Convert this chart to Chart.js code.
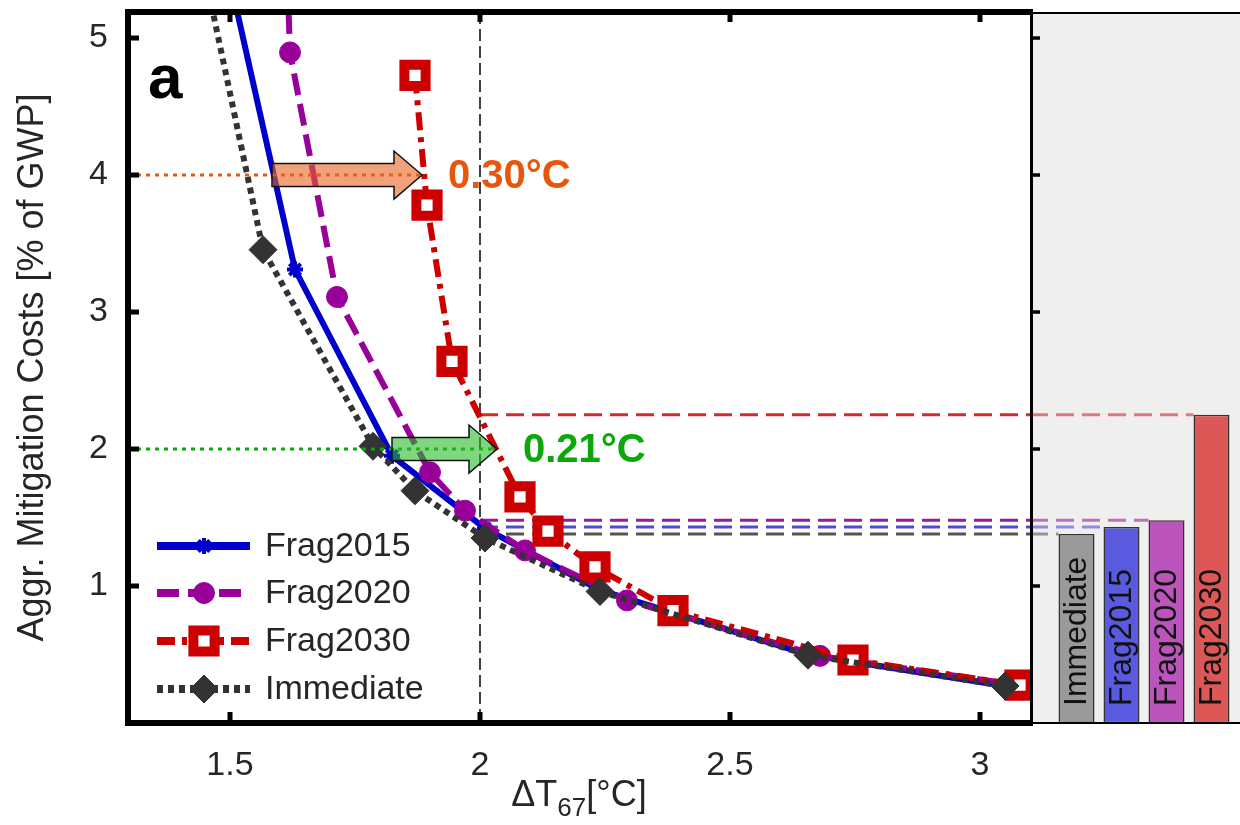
<!DOCTYPE html>
<html>
<head>
<meta charset="utf-8">
<title>Aggregated mitigation costs vs. warming</title>
<script src="https://cdn.jsdelivr.net/npm/chart.js@4.4.1/dist/chart.umd.min.js"></script>
<style>
  html, body { margin: 0; padding: 0; background: #fff; }
  #wrap { position: relative; width: 1240px; height: 825px; }
  #main { position: absolute; left: 0; top: 0; }
  #side { position: absolute; left: 1030px; top: 0; }
</style>
</head>
<body>
<div id="wrap">
  <canvas id="main" width="1240" height="825"></canvas>
  <canvas id="side" width="210" height="825"></canvas>
</div>
<script>
// ---- axes ----
const xTicks = [1.5, 2, 2.5, 3];
const yTicks = [1, 2, 3, 4, 5];
const xMin = 1.296, xMax = 3.1;
const yMin = 0, yMax = 5.19;

// ---- cost curves (ΔT67 in °C, cost in % of GWP) ----
const frag2015X = [1.434, 1.63, 1.824, 2.01, 2.24, 2.656, 3.05];
const frag2015Y = [6.5, 3.31, 1.95, 1.42, 0.97, 0.50, 0.27];
const frag2020X = [1.60, 1.62, 1.714, 1.90, 1.97, 2.09, 2.294, 2.68, 3.09];
const frag2020Y = [7.0, 4.895, 3.11, 1.83, 1.55, 1.26, 0.895, 0.49, 0.27];
const frag2030X = [1.87, 1.894, 1.944, 2.08, 2.136, 2.23, 2.386, 2.746, 3.08];
const frag2030Y = [4.727, 3.78, 2.64, 1.65, 1.40, 1.14, 0.82, 0.46, 0.276];
const immediateX = [1.39, 1.566, 1.786, 1.87, 2.01, 2.24, 2.656, 3.05];
const immediateY = [6.5, 3.455, 2.02, 1.695, 1.35, 0.96, 0.495, 0.27];

// ---- costs at 2 °C (side bars) ----
const barLabels = ['Immediate', 'Frag2015', 'Frag2020', 'Frag2030'];
const barCosts = [1.38, 1.43, 1.48, 2.25];

// ---- warming shift arrows ----
const shiftLevels = [4, 2];
const shiftStart = [1.584, 1.824];
const shiftSize = [0.30, 0.21];

const FONT = "'Liberation Sans', Arial, Helvetica, sans-serif";
const INK = '#262626';
const colors = { f2015: '#0000cc', f2020: '#990099', f2030: '#cc0000', immediate: '#333333' };
const barFill = ['#9a9a9a', '#5a5ae0', '#bb55bb', '#de5757'];
const refLine = ['#555555', '#4a4ad8', '#9a1a9a', '#d42a2a'];
const shiftText = ['#e8560e', '#0aa80a'];
const shiftFill = ['rgba(233,100,33,0.6)', 'rgba(40,187,40,0.6)'];

Chart.defaults.font.family = FONT;
Chart.defaults.color = INK;

function series(label, xs, ys, color, extra) {
  return Object.assign({
    label,
    data: xs.map((x, i) => ({ x, y: ys[i] })),
    borderColor: color,
    backgroundColor: color,
    pointBorderColor: color,
    pointBackgroundColor: color,
    borderWidth: 6,
    tension: 0,
    fill: false,
    clip: 0,
  }, extra);
}

function drawArrow(ctx, x0, x1, yc, fill) {
  const body = 11.5, head = 24, headLen = 28;
  const xb = x1 - headLen;
  ctx.beginPath();
  ctx.moveTo(x0, yc - body);
  ctx.lineTo(xb, yc - body);
  ctx.lineTo(xb, yc - head);
  ctx.lineTo(x1, yc);
  ctx.lineTo(xb, yc + head);
  ctx.lineTo(xb, yc + body);
  ctx.lineTo(x0, yc + body);
  ctx.closePath();
  ctx.fillStyle = fill;
  ctx.fill();
  ctx.setLineDash([]);
  ctx.lineWidth = 1.5;
  ctx.strokeStyle = '#111';
  ctx.stroke();
}

const mainDecor = {
  id: 'mainDecor',
  beforeDatasetsDraw(chart) {
    const { ctx, chartArea: a, scales: { x, y } } = chart;
    ctx.save();
    ctx.beginPath();
    ctx.rect(a.left, a.top, a.width, a.height);
    ctx.clip();
    // 2 °C guide
    const x2 = x.getPixelForValue(2);
    ctx.strokeStyle = '#000';
    ctx.lineWidth = 1.5;
    ctx.setLineDash([12, 5]);
    ctx.beginPath();
    ctx.moveTo(x2, a.top);
    ctx.lineTo(x2, a.bottom);
    ctx.stroke();
    // cost of each scenario at 2 °C
    ctx.lineWidth = 3;
    ctx.setLineDash([18, 8]);
    barCosts.forEach((c, i) => {
      const yy = y.getPixelForValue(c);
      ctx.strokeStyle = refLine[i];
      ctx.beginPath();
      ctx.moveTo(x2, yy);
      ctx.lineTo(a.right, yy);
      ctx.stroke();
    });
    ctx.restore();
  },
  afterDatasetsDraw(chart) {
    const { ctx, chartArea: a, scales: { x, y } } = chart;
    ctx.save();
    shiftLevels.forEach((lvl, i) => {
      const yy = y.getPixelForValue(lvl);
      const x0 = x.getPixelForValue(shiftStart[i]);
      const x1 = x.getPixelForValue(shiftStart[i] + shiftSize[i]);
      // dotted cost level
      ctx.strokeStyle = shiftText[i];
      ctx.lineWidth = 3;
      ctx.setLineDash([4, 5]);
      ctx.beginPath();
      ctx.moveTo(a.left, yy);
      ctx.lineTo(x1, yy);
      ctx.stroke();
      drawArrow(ctx, x0, x1, yy, shiftFill[i]);
      ctx.fillStyle = shiftText[i];
      ctx.font = 'bold 40px ' + FONT;
      ctx.textAlign = 'left';
      ctx.textBaseline = 'middle';
      ctx.fillText(shiftSize[i].toFixed(2) + '°C', x1 + 26, yy + 2);
    });
    ctx.restore();
  },
  afterDraw(chart) {
    const { ctx, chartArea: a, scales: { x, y } } = chart;
    ctx.save();

    // legend: line + marker per series
    const rowY = [546, 593, 641, 689];
    chart.data.datasets.forEach((ds, i) => {
      const yy = rowY[i];
      ctx.strokeStyle = ds.borderColor;
      ctx.lineWidth = 8;
      ctx.setLineDash(ds.borderDash || []);
      ctx.beginPath();
      ctx.moveTo(157, yy);
      ctx.lineTo(250, yy);
      ctx.stroke();
      ctx.setLineDash([]);
      ctx.fillStyle = ds.pointBackgroundColor;
      ctx.strokeStyle = ds.pointBorderColor;
      ctx.lineWidth = ds.pointBorderWidth;
      Chart.helpers.drawPoint(ctx, {
        pointStyle: ds.pointStyle,
        radius: ds.pointRadius,
        borderWidth: ds.pointBorderWidth,
        rotation: 0,
      }, 204, yy);
      ctx.fillStyle = INK;
      ctx.font = '34px ' + FONT;
      ctx.textAlign = 'left';
      ctx.textBaseline = 'middle';
      ctx.fillText(ds.label, 265, yy + 1);
    });

    // panel letter
    ctx.fillStyle = '#000';
    ctx.font = 'bold 62px ' + FONT;
    ctx.textAlign = 'left';
    ctx.textBaseline = 'alphabetic';
    ctx.fillText('a', 148, 98);

    // frame (left, top, bottom)
    ctx.setLineDash([]);
    ctx.strokeStyle = '#000';
    ctx.lineWidth = 6;
    ctx.lineJoin = 'miter';
    ctx.beginPath();
    ctx.moveTo(a.right, a.top);
    ctx.lineTo(a.left, a.top);
    ctx.lineTo(a.left, a.bottom);
    ctx.lineTo(a.right, a.bottom);
    ctx.stroke();

    // inward ticks
    ctx.lineWidth = 5;
    xTicks.forEach(v => {
      const px = x.getPixelForValue(v);
      ctx.beginPath();
      ctx.moveTo(px, a.bottom);
      ctx.lineTo(px, a.bottom - 11);
      ctx.moveTo(px, a.top);
      ctx.lineTo(px, a.top + 10);
      ctx.stroke();
    });
    yTicks.forEach(v => {
      const py = y.getPixelForValue(v);
      ctx.beginPath();
      ctx.moveTo(a.left, py);
      ctx.lineTo(a.left + 11, py);
      ctx.stroke();
    });

    // x title with subscript
    const big = '36px ' + FONT, small = '26px ' + FONT;
    ctx.font = big;
    const w1 = ctx.measureText('ΔT').width;
    const w3 = ctx.measureText('[°C]').width;
    ctx.font = small;
    const w2 = ctx.measureText('67').width;
    let tx = (a.left + a.right) / 2 - (w1 + w2 + w3) / 2;
    const base = 806;
    ctx.fillStyle = INK;
    ctx.textAlign = 'left';
    ctx.textBaseline = 'alphabetic';
    ctx.font = big;
    ctx.fillText('ΔT', tx, base);
    tx += w1;
    ctx.font = small;
    ctx.fillText('67', tx, base + 10);
    tx += w2;
    ctx.font = big;
    ctx.fillText('[°C]', tx, base);
    ctx.restore();
  }
};

new Chart(document.getElementById('main'), {
  type: 'line',
  data: {
    datasets: [
      series('Frag2015', frag2015X, frag2015Y, colors.f2015, {
        order: 3, pointStyle: 'star', pointRadius: 8, pointBorderWidth: 4,
      }),
      series('Frag2020', frag2020X, frag2020Y, colors.f2020, {
        order: 2, borderDash: [22, 9], pointStyle: 'circle', pointRadius: 10.5, pointBorderWidth: 1,
      }),
      series('Frag2030', frag2030X, frag2030Y, colors.f2030, {
        order: 1, borderDash: [18, 7, 5, 7], pointStyle: 'rect', pointRadius: 15, pointBorderWidth: 10,
        pointBackgroundColor: '#ffffff',
      }),
      series('Immediate', immediateX, immediateY, colors.immediate, {
        order: 0, borderDash: [6, 5], pointStyle: 'rectRot', pointRadius: 14, pointBorderWidth: 1,
      }),
    ],
  },
  options: {
    responsive: false,
    animation: false,
    devicePixelRatio: 1,
    layout: { autoPadding: false, padding: { left: 0, top: 12, right: 210, bottom: 0 } },
    plugins: { legend: { display: false }, tooltip: { enabled: false } },
    scales: {
      x: {
        type: 'linear',
        min: xMin,
        max: xMax,
        grid: { display: false, drawTicks: false },
        border: { display: false },
        afterBuildTicks: s => { s.ticks = xTicks.map(v => ({ value: v })); },
        afterFit: s => { s.height = 102; s.paddingLeft = 0; s.paddingRight = 0; },
        ticks: { font: { size: 34 }, color: INK, padding: 22, maxRotation: 0, callback: v => String(v) },
      },
      y: {
        type: 'linear',
        min: yMin,
        max: yMax,
        grid: { display: false, drawTicks: false },
        border: { display: false },
        afterBuildTicks: s => { s.ticks = yTicks.map(v => ({ value: v })); },
        afterFit: s => { s.width = 128; s.paddingTop = 0; s.paddingBottom = 0; },
        ticks: { font: { size: 34 }, color: INK, padding: 20, callback: v => String(v) },
        title: {
          display: true,
          text: 'Aggr. Mitigation Costs [% of GWP]',
          font: { size: 36 },
          color: INK,
          padding: { top: 11, bottom: 0 },
        },
      },
    },
  },
  plugins: [mainDecor],
});

// ---- side panel: cost of each scenario at 2 °C ----
const sidePanel = {
  id: 'sidePanel',
  beforeDraw(chart) {
    const { ctx, chartArea: a, width } = chart;
    ctx.save();
    ctx.fillStyle = '#efefef';
    ctx.fillRect(0, a.top, width, a.bottom - a.top);
    ctx.restore();
  },
  beforeDatasetsDraw(chart) {
    const { ctx, scales: { y } } = chart;
    const bars = chart.getDatasetMeta(0).data;
    ctx.save();
    ctx.globalAlpha = 0.6;
    ctx.lineWidth = 3;
    ctx.setLineDash([18, 8]);
    bars.forEach((bar, i) => {
      const yy = y.getPixelForValue(barCosts[i]);
      ctx.strokeStyle = refLine[i];
      ctx.beginPath();
      ctx.moveTo(0, yy);
      ctx.lineTo(bar.x - bar.width / 2, yy);
      ctx.stroke();
    });
    ctx.restore();
  },
  afterDatasetsDraw(chart) {
    const { ctx, chartArea: a, scales: { y }, width } = chart;
    const bars = chart.getDatasetMeta(0).data;
    ctx.save();
    ctx.fillStyle = '#111';
    ctx.font = '32px ' + FONT;
    ctx.textAlign = 'left';
    ctx.textBaseline = 'middle';
    bars.forEach((bar, i) => {
      ctx.save();
      ctx.translate(bar.x + 1, a.bottom - 17);
      ctx.rotate(-Math.PI / 2);
      ctx.fillText(barLabels[i], 0, 0);
      ctx.restore();
    });

    ctx.strokeStyle = '#000';
    ctx.setLineDash([]);
    ctx.lineWidth = 2;
    ctx.beginPath();
    ctx.moveTo(0, a.top + 1);
    ctx.lineTo(width, a.top + 1);
    ctx.moveTo(0, a.bottom);
    ctx.lineTo(width, a.bottom);
    ctx.stroke();
    ctx.lineWidth = 3;
    ctx.beginPath();
    ctx.moveTo(1.5, a.top - 3);
    ctx.lineTo(1.5, a.bottom + 3);
    ctx.stroke();
    ctx.lineWidth = 3.5;
    yTicks.forEach(v => {
      const py = y.getPixelForValue(v);
      ctx.beginPath();
      ctx.moveTo(0, py);
      ctx.lineTo(10, py);
      ctx.stroke();
    });
    ctx.restore();
  }
};

new Chart(document.getElementById('side'), {
  type: 'bar',
  data: {
    labels: barLabels,
    datasets: [{
      data: barCosts,
      backgroundColor: barFill,
      borderColor: '#333',
      borderWidth: 1.5,
      borderSkipped: false,
      barPercentage: 0.8,
      categoryPercentage: 1,
    }],
  },
  options: {
    responsive: false,
    animation: false,
    devicePixelRatio: 1,
    layout: { autoPadding: false, padding: { left: 24, right: 6, top: 12, bottom: 102 } },
    plugins: { legend: { display: false }, tooltip: { enabled: false } },
    scales: {
      x: { display: false },
      y: { display: false, min: yMin, max: yMax },
    },
  },
  plugins: [sidePanel],
});
</script>
</body>
</html>
